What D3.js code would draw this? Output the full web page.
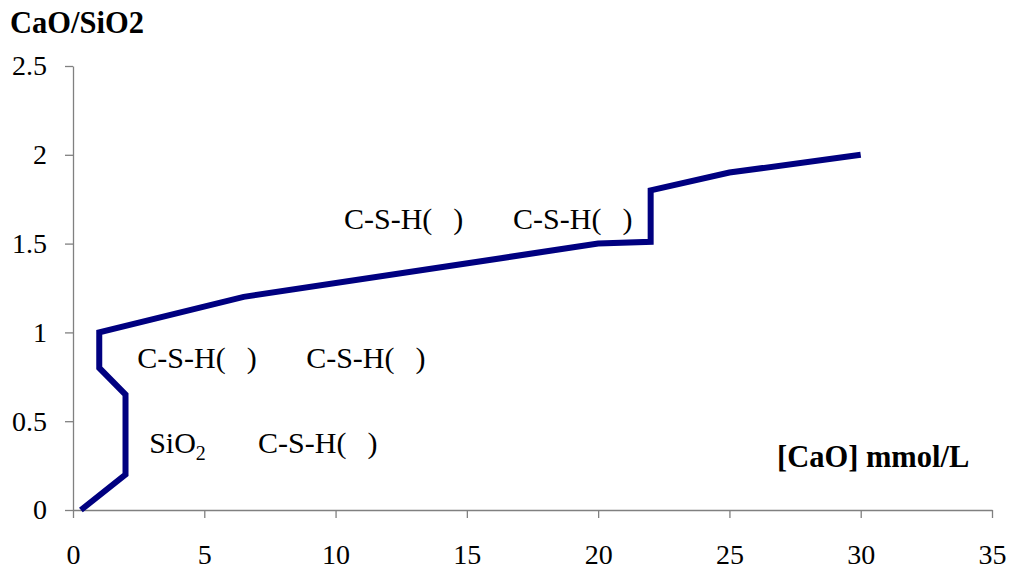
<!DOCTYPE html>
<html><head><meta charset="utf-8">
<script src="https://cdn.jsdelivr.net/npm/d3@7/dist/d3.min.js"></script>
<style>body{margin:0;background:#fff}svg{display:block}text{font-family:"Liberation Serif","Times New Roman",serif;fill:#000}</style>
</head><body>
<script>
const xValues = [0.3, 2, 2, 1, 1, 6.5, 20, 22, 22, 25, 30];
const yValues = [0, 0.2, 0.65, 0.8, 1.0, 1.2, 1.5, 1.51, 1.8, 1.9, 2.0];
const xTicks = [0, 5, 10, 15, 20, 25, 30, 35];
const yTicks = [0, 0.5, 1, 1.5, 2, 2.5];
const csh = "C-S-H(\u00a0\u00a0\u2009)";
const annotations = [
  {t: csh, x: 10.32, y: 1.58},
  {t: csh, x: 16.76, y: 1.58},
  {t: csh, x: 2.45, y: 0.8},
  {t: csh, x: 8.88, y: 0.8},
  {t: "SiO", sub: "2", x: 2.9, y: 0.32},
  {t: csh, x: 7.05, y: 0.32}
];

const W = 1011, H = 573;
const svg = d3.select("body").append("svg").attr("width", W).attr("height", H);
const x = d3.scaleLinear().domain([0, 35]).range([73, 992]);
const y = d3.scaleLinear().domain([0, 2.5]).range([510, 66]);

const gx = svg.append("g").attr("transform", "translate(0,510)")
  .call(d3.axisBottom(x).tickValues(xTicks).tickSize(8).tickPadding(26).tickSizeOuter(0).tickFormat(d3.format("d")));
const gy = svg.append("g").attr("transform", "translate(73,0)")
  .call(d3.axisLeft(y).tickValues(yTicks).tickSize(8).tickPadding(18).tickSizeOuter(0).tickFormat(d => String(d)));
[gx, gy].forEach(g => {
  g.selectAll("path,line").attr("stroke", "#808080").attr("stroke-width", 1.3);
  g.selectAll("text").attr("font-size", 28).attr("font-family", "Liberation Serif").attr("fill", "#000");
});

const line = d3.line().x((d, i) => x(xValues[i])).y((d, i) => y(yValues[i]));
svg.append("path").datum(xValues).attr("d", line)
  .attr("fill", "none").attr("stroke", "#000080").attr("stroke-width", 6).attr("stroke-linejoin", "miter");

annotations.forEach(a => {
  const t = svg.append("text").attr("x", x(a.x)).attr("y", y(a.y)).attr("font-size", 30).attr("xml:space", "preserve");
  t.append("tspan").text(a.t);
  if (a.sub) t.append("tspan").attr("font-size", 20).attr("dy", 7).text(a.sub);
});

svg.append("text").attr("x", 10).attr("y", 33).attr("font-size", 30.5).attr("font-weight", "bold").text("CaO/SiO2");
svg.append("text").attr("x", 777).attr("y", 467).attr("font-size", 30.5).attr("font-weight", "bold").text("[CaO] mmol/L");
</script>
</body></html>
